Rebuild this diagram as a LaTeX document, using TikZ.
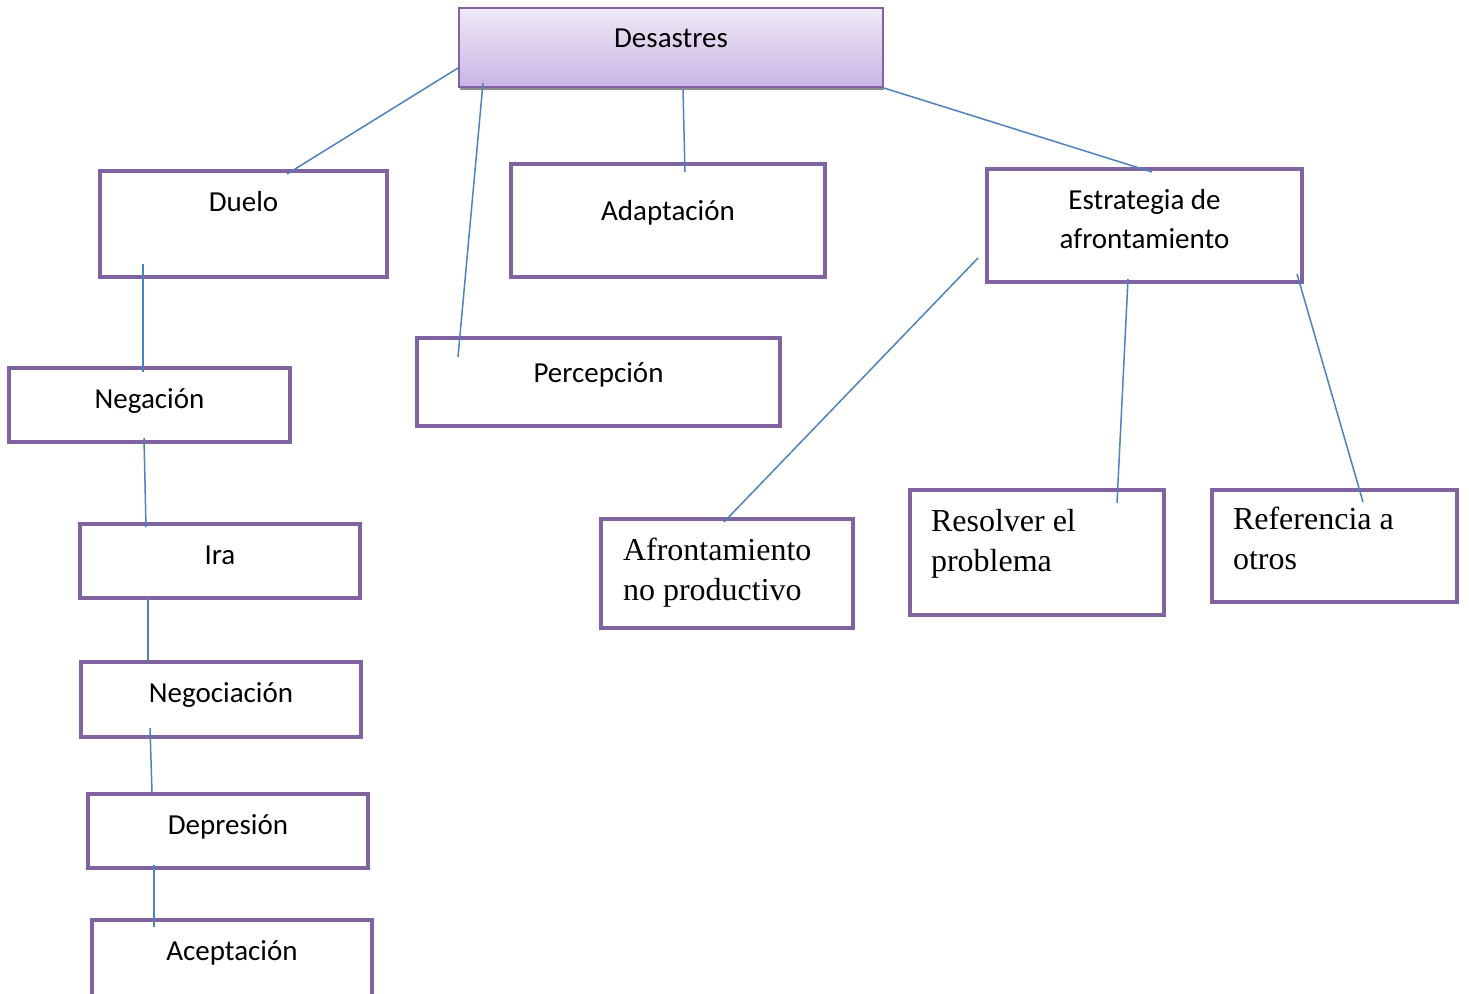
\documentclass[tikz,border=0pt]{standalone}
\usepackage{fontspec}
\setmainfont{Carlito}
\newfontfamily\timesfont{Liberation Serif}
\usetikzlibrary{shadows}
\definecolor{boxpurple}{HTML}{8064A2}
\definecolor{linkblue}{HTML}{4F81BD}
\definecolor{toplilac}{HTML}{F0EAF7}
\definecolor{botlilac}{HTML}{C8B4E3}
\begin{document}
\begin{tikzpicture}[x=1pt, y=-1pt,
  box/.style={draw=boxpurple, line width=4pt, anchor=north west, inner sep=0pt,
    outer sep=0pt, align=flush center, font=\fontsize{29}{39}\selectfont},
  serifbox/.style={box, align=flush left, font=\timesfont\fontsize{32}{40}\selectfont},
  link/.style={draw=linkblue, line width=1.5pt}]
\useasboundingbox (0,0) rectangle (1469,993);
% top node
\node[box, line width=2.5pt, text width=424pt, text height=39pt, text depth=40pt,
  top color=toplilac, bottom color=botlilac,
  drop shadow={shadow xshift=1pt, shadow yshift=-3pt, fill=gray!90, opacity=1}]
  (desastres) at (459,8) {Desastres};
% first level
\node[box, text width=287pt, text height=40pt, text depth=66pt] (duelo) at (100,171) {Duelo};
\node[box, text width=314pt, text height=56pt, text depth=57pt] (adaptacion) at (511,164) {Adaptación};
\node[box, text width=315pt, text height=40pt, text depth=73pt] (estrategia) at (987,169) {Estrategia de\\afrontamiento};
\node[box, text width=363pt, text height=44pt, text depth=44pt] (percepcion) at (417,338) {Percepción};
% stages of grief
\node[box, text width=281pt, text height=40pt, text depth=34pt] (negacion) at (9,368) {Negación};
\node[box, text width=280pt, text height=40pt, text depth=34pt] (ira) at (80,524) {Ira};
\node[box, text width=280pt, text height=40pt, text depth=35pt] (negociacion) at (81,662) {Negociación};
\node[box, text width=280pt, text height=40pt, text depth=34pt] (depresion) at (88,794) {Depresión};
\node[box, text width=280pt, text height=40pt, text depth=50pt] (aceptacion) at (92,920) {Aceptación};
% coping strategies
\node[serifbox, inner xsep=22pt, text width=208pt, text height=41pt, text depth=68pt] (afrontamiento) at (601,519) {Afrontamiento\\no productivo};
\node[serifbox, inner xsep=21pt, text width=212pt, text height=41pt, text depth=84pt] (resolver) at (910,490) {Resolver el\\problema};
\node[serifbox, inner xsep=21pt, text width=203pt, text height=39pt, text depth=73pt] (referencia) at (1212,490) {Referencia a\\otros};
% connector ends
\coordinate (dsL) at (458,68);   \coordinate (duT) at (287,174);
\coordinate (dsP) at (483,83);   \coordinate (peT) at (458,357);
\coordinate (dsA) at (683,90);   \coordinate (adT) at (685,172);
\coordinate (dsR) at (884,88);   \coordinate (esT) at (1152,172);
\coordinate (duB) at (143,264);  \coordinate (neT) at (143,372);
\coordinate (neB) at (144,438);  \coordinate (irT) at (146,527);
\coordinate (irB) at (148,598);  \coordinate (ngT) at (148,660);
\coordinate (ngB) at (150,728);  \coordinate (deT) at (152,792);
\coordinate (deB) at (154,865);  \coordinate (acT) at (154,927);
\coordinate (esL) at (978,258);  \coordinate (afT) at (724,522);
\coordinate (esM) at (1128,279); \coordinate (reT) at (1117,503);
\coordinate (esR) at (1297,274); \coordinate (rfT) at (1363,502);
% connectors
\draw[link] (dsL) -- (duT);
\draw[link] (dsP) -- (peT);
\draw[link] (dsA) -- (adT);
\draw[link] (dsR) -- (esT);
\draw[link] (duB) -- (neT);
\draw[link] (neB) -- (irT);
\draw[link] (irB) -- (ngT);
\draw[link] (ngB) -- (deT);
\draw[link] (deB) -- (acT);
\draw[link] (esL) -- (afT);
\draw[link] (esM) -- (reT);
\draw[link] (esR) -- (rfT);
\end{tikzpicture}
\end{document}
